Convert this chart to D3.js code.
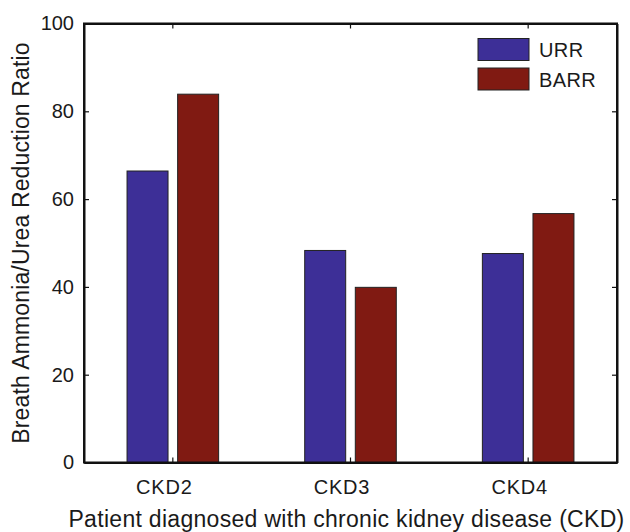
<!DOCTYPE html>
<html>
<head>
<meta charset="utf-8">
<script src="https://cdn.jsdelivr.net/npm/d3@7"></script>
<style>
  html, body { margin: 0; padding: 0; background: #fff; }
  svg { display: block; }
  text { font-family: "Liberation Sans", Arial, Helvetica, sans-serif; fill: #1a1a1a; }
</style>
</head>
<body>
<svg id="chart" width="630" height="532"></svg>
<script>
// CKD stages and the two reduction ratios (%)
const categories = ["CKD2", "CKD3", "CKD4"];
const series = ["URR", "BARR"];
const urrValues = [66.4, 48.3, 47.6];
const barrValues = [83.9, 39.9, 56.7];
const yTicks = [0, 20, 40, 60, 80, 100];
const seriesColors = ["#3d2f97", "#801a12"];

const W = 630, H = 532;
const margin = { left: 84, right: 13, top: 23.5, bottom: 69.5 };
const x0 = margin.left, x1 = W - margin.right;
const y0 = H - margin.bottom, y1 = margin.top;

const svg = d3.select("#chart");

const x = d3.scaleBand()
  .domain(categories)
  .range([x0, x1])
  .paddingInner(0.4845)
  .paddingOuter(0.24225);

const xs = d3.scaleBand()
  .domain(series)
  .range([0, x.bandwidth()])
  .paddingInner(0.19);

const y = d3.scaleLinear().domain([0, 100]).range([y0, y1]);

const valuesBySeries = { URR: urrValues, BARR: barrValues };
const rows = [];
categories.forEach((c, i) => {
  series.forEach((s, j) => rows.push({ cat: c, s, v: valuesBySeries[s][i], color: seriesColors[j] }));
});

// bars
svg.append("g").selectAll("rect")
  .data(rows)
  .join("rect")
  .attr("x", d => x(d.cat) + xs(d.s))
  .attr("width", xs.bandwidth())
  .attr("y", d => y(d.v))
  .attr("height", d => y(0) - y(d.v))
  .attr("fill", d => d.color)
  .attr("stroke", "#222")
  .attr("stroke-width", 1);

// frame with inward ticks on all four sides
const tickLen = 5;
const tickFont = 20;
const titleFont = 23;

const axisLeftG = svg.append("g").attr("transform", `translate(${x0},0)`)
  .call(d3.axisLeft(y).tickValues(yTicks).tickSize(-tickLen).tickPadding(10).tickSizeOuter(0));
const axisRightG = svg.append("g").attr("transform", `translate(${x1},0)`)
  .call(d3.axisRight(y).tickValues(yTicks).tickSize(-tickLen).tickFormat("").tickSizeOuter(0));
const axisBottomG = svg.append("g").attr("transform", `translate(0,${y0})`)
  .call(d3.axisBottom(x).tickSize(-tickLen).tickPadding(17.5).tickSizeOuter(0));
const axisTopG = svg.append("g").attr("transform", `translate(0,${y1})`)
  .call(d3.axisTop(x).tickSize(-tickLen).tickFormat("").tickSizeOuter(0));

[axisLeftG, axisRightG, axisBottomG, axisTopG].forEach(g => {
  g.select(".domain").attr("stroke", "#111").attr("stroke-width", 2);
  g.selectAll(".tick line").attr("stroke", "#111").attr("stroke-width", 1.2);
  g.selectAll(".tick text")
    .attr("fill", "#1a1a1a")
    .style("font-family", '"Liberation Sans", Arial, sans-serif')
    .style("font-size", tickFont + "px");
});
// category labels sit slightly left of their ticks
axisBottomG.selectAll(".tick text")
  .attr("dx", -8.5)
  .style("letter-spacing", "0.8px");

// closed frame so the corners join cleanly
svg.append("rect")
  .attr("x", x0).attr("y", y1)
  .attr("width", x1 - x0).attr("height", y0 - y1)
  .attr("fill", "none").attr("stroke", "#111").attr("stroke-width", 2);

// axis titles
svg.append("text")
  .attr("x", (x0 + x1) / 2 - 4)
  .attr("y", 527)
  .attr("text-anchor", "middle")
  .style("font-size", titleFont + "px")
  .style("letter-spacing", "0.3px")
  .text("Patient diagnosed with chronic kidney disease (CKD)");

svg.append("text")
  .attr("transform", `translate(29,${(y0 + y1) / 2}) rotate(-90)`)
  .attr("text-anchor", "middle")
  .style("font-size", titleFont + "px")
  .style("letter-spacing", "0.15px")
  .text("Breath Ammonia/Urea Reduction Ratio");

// legend
const legend = svg.append("g").attr("transform", "translate(478,38.5)");
series.forEach((s, i) => {
  const g = legend.append("g").attr("transform", `translate(0,${i * 29.5})`);
  g.append("rect")
    .attr("width", 51).attr("height", 22)
    .attr("fill", seriesColors[i])
    .attr("stroke", "#222").attr("stroke-width", 1);
  g.append("text")
    .attr("x", 61).attr("y", 18.5)
    .style("font-size", tickFont + "px")
    .style("letter-spacing", "0.4px")
    .text(s);
});
</script>
</body>
</html>
